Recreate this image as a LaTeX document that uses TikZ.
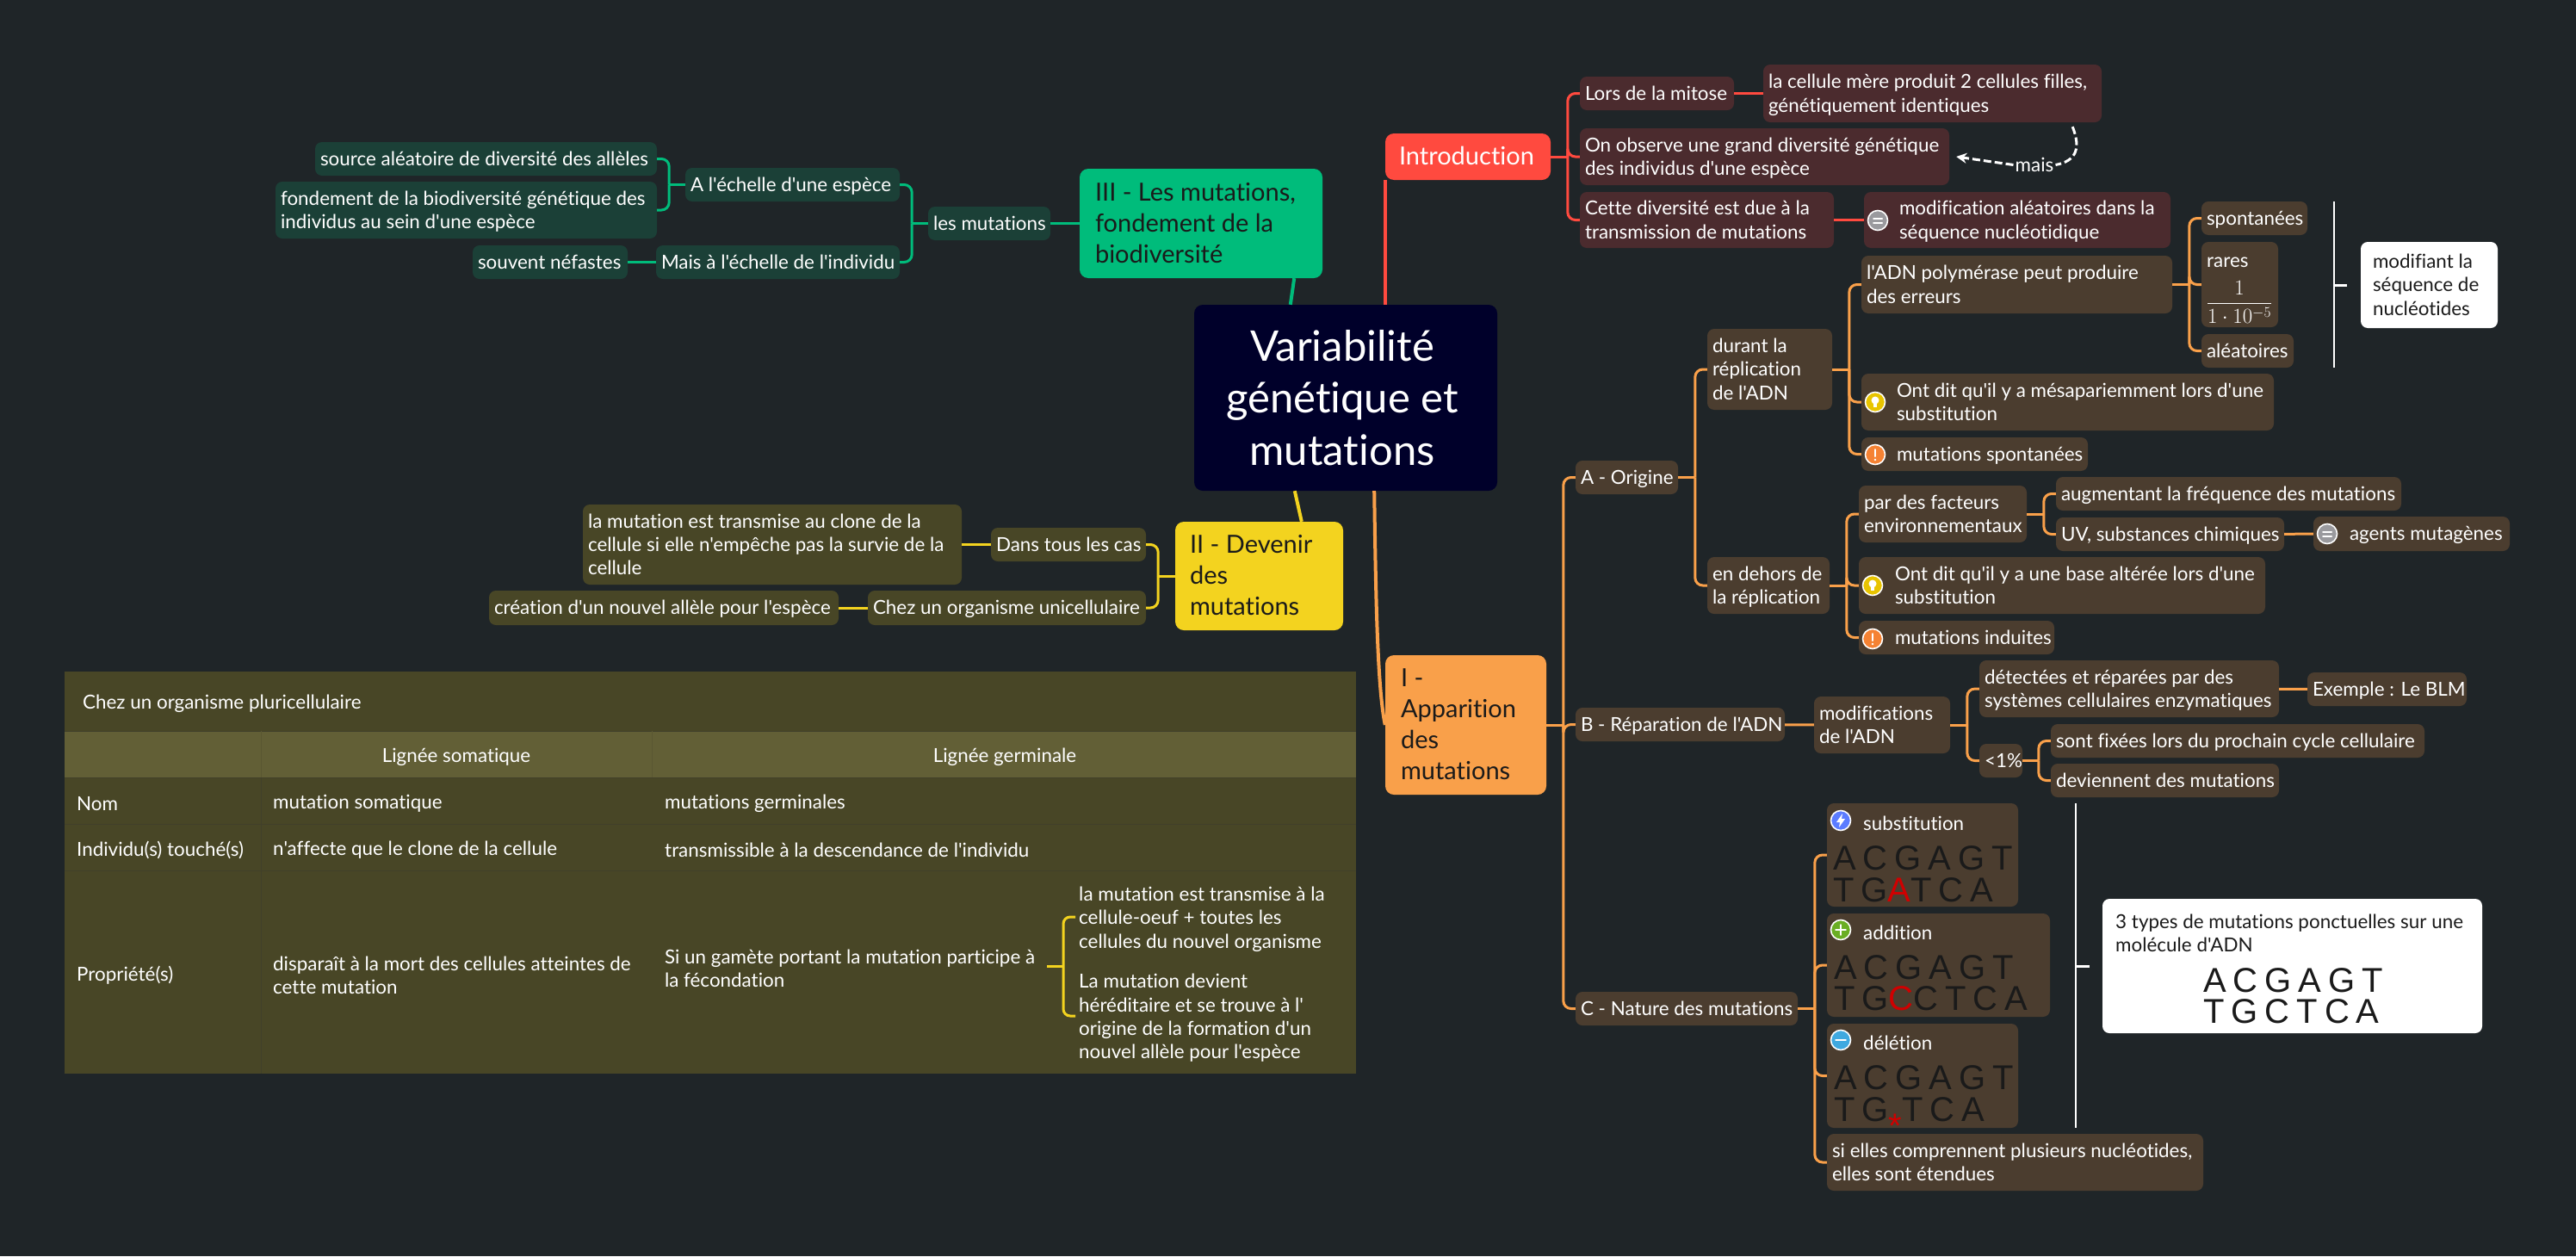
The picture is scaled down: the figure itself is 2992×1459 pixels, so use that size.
\documentclass[tikz,border=0pt]{standalone}
\usepackage{fontspec}
\usetikzlibrary{calc,arrows.meta}
\newfontfamily\txtf[Ligatures=NoCommon]{Lato}
\newfontfamily\dnaf[LetterSpace=20]{Liberation Sans}
\definecolor{bgc}{HTML}{1F2528}
\definecolor{navy}{HTML}{00002A}
\definecolor{redc}{HTML}{FF4A3F}
\definecolor{orac}{HTML}{F9A04A}
\definecolor{yelc}{HTML}{F3D31F}
\definecolor{grec}{HTML}{00BC7B}
\definecolor{redb}{HTML}{4B2B2E}
\definecolor{orab}{HTML}{4B3D2F}
\definecolor{yelb}{HTML}{484626}
\definecolor{greb}{HTML}{1B4037}
\definecolor{tabh}{HTML}{625F36}
\definecolor{tabl}{HTML}{41402A}
\definecolor{tabv}{HTML}{5A5732}
\definecolor{inkc}{HTML}{1A1A1A}
\definecolor{dnar}{HTML}{D00000}
\definecolor{icgray}{HTML}{9A9A9E}
\definecolor{icyel}{HTML}{E8C400}
\definecolor{icora}{HTML}{F58233}
\definecolor{icblu}{HTML}{5B7CFF}
\definecolor{icgre}{HTML}{6AAE24}
\definecolor{icsky}{HTML}{3FA9E0}
\tikzset{
  box/.style={rectangle,rounded corners=8pt,inner sep=0pt,text=white,font=\txtf\fontsize{22.4}{27.3}\selectfont},
  redbox/.style={box,fill=redb}, orabox/.style={box,fill=orab},
  yelbox/.style={box,fill=yelb}, grebox/.style={box,fill=greb},
  whitebox/.style={box,fill=white,text=inkc},
  topic/.style={box,rounded corners=10pt,text=inkc,font=\txtf\fontsize{29}{36}\selectfont},
  conn/.style={line width=3pt},
  plain/.style={inner sep=0pt,yshift=-2.5pt,text=white,font=\txtf\fontsize{22.4}{27.3}\selectfont},
  dna/.style={inner sep=0pt,anchor=base west,text=inkc,font=\dnaf\fontsize{40}{40}\selectfont},
  iconc/.style={circle,draw=white,line width=1.6pt,minimum size=23pt,inner sep=0pt},
  glyph/.style={line width=2pt,draw=white,line cap=round}
}
% [opts]{name}{x0}{y0}{x1}{y1}{pad}{text}
\newcommand\bx[8][]{%
  \pgfmathsetmacro\xW{#5-#3}\pgfmathsetmacro\xH{#6-#4}%
  \pgfmathsetmacro\xC{(#5+#3)/2}\pgfmathsetmacro\yC{(#6+#4)/2}%
  \node[#1,minimum width=\xW pt,minimum height=\xH pt] (#2) at (\xC,\yC)
    {\makebox[\xW pt][l]{\hspace{#7pt}\raisebox{-2.5pt}[\height][\depth]{\begin{tabular}{@{}l@{}}#8\end{tabular}}}};}
% right-going branch {colour}{parent}{child}
\newcommand\rb[3]{%
  \path (#3.west) ++(-14,0) coordinate (sp);
  \draw[conn,#1] (#2.east) -- (sp |- #2.east);
  \draw[conn,#1,rounded corners=9pt] (sp |- #2.east) -- (sp) -- (#3.west);}
% left-going branch
\newcommand\lb[3]{%
  \path (#3.east) ++(14,0) coordinate (sp);
  \draw[conn,#1] (#2.west) -- (sp |- #2.west);
  \draw[conn,#1,rounded corners=9pt] (sp |- #2.west) -- (sp) -- (#3.east);}
% icon {name}{x}{y}{colour}{glyph}
\newcommand\icon[5]{%
  \node[iconc,fill=#4] (#1) at (#2,#3) {};
  \begin{scope}[shift={(#1.center)}]#5\end{scope}}
\newcommand\gEq{\draw[glyph] (-5,-2.5) -- (5,-2.5) (-5,2.5) -- (5,2.5);}
\newcommand\gBulb{\fill[white] (0,-2) circle (4.5pt); \fill[white] (-2,2) rectangle (2,6);}
\newcommand\gExc{\draw[glyph] (0,-6) -- (0,2); \fill[white] (0,6) circle (1.4pt);}
\newcommand\gBolt{\fill[white] (2,-8) -- (-5,2) -- (-1,2) -- (-2,8) -- (5,-2) -- (1,-2) -- cycle;}
\newcommand\gPlus{\draw[glyph,line width=1.5pt] (-6,0) -- (6,0) (0,-6) -- (0,6);}
\newcommand\gMinus{\draw[glyph,line width=1.5pt] (-6,0) -- (6,0);}
\begin{document}
\begin{tikzpicture}[x=1pt,y=-1pt]
\useasboundingbox (0,0) rectangle (2992,1459);
\fill[bgc] (0,0) rectangle (2992,1459);

% table
\fill[yelb] (75,780) rectangle (1575,1247);
\fill[tabh] (75,849) rectangle (1575,903);
\draw[tabl,line width=1pt] (75,849) -- (1575,849) (75,903) -- (1575,903) (75,957) -- (1575,957) (75,1011) -- (1575,1011) (303,903) -- (303,1247);
\draw[tabv,line width=1pt] (303,849) -- (303,903) (757,849) -- (757,903);
\node[plain,anchor=west] (tchez) at (96,815) {Chez un organisme pluricellulaire};
\node[plain] (tsom) at (530,877) {Lignée somatique};
\node[plain] (tger) at (1167,877) {Lignée germinale};
\node[plain,anchor=west] (tnom) at (89,931) {Nom};
\node[plain,anchor=west] (tms) at (317,931) {mutation somatique};
\node[plain,anchor=west] (tmg) at (772,931) {mutations germinales};
\node[plain,anchor=west] (tind) at (89,985) {Individu(s) touché(s)};
\node[plain,anchor=west] (tnaf) at (317,985) {n'affecte que le clone de la cellule};
\node[plain,anchor=west] (ttra) at (772,985) {transmissible à la descendance de l'individu};
\node[plain,anchor=west] (tpro) at (89,1130) {Propriété(s)};
\node[plain,anchor=west,align=left] (tdis) at (317,1130) {disparaît à la mort des cellules atteintes de\\cette mutation};
\node[plain,anchor=west,align=left,outer sep=0pt] (tsi) at (772,1122) {Si un gamète portant la mutation participe à\\la fécondation};
\coordinate (tsie) at (1216,1122);
\node[plain,anchor=west,align=left] (tc1) at (1253,1065) {la mutation est transmise à la\\cellule-oeuf + toutes les\\cellules du nouvel organisme};
\node[plain,anchor=west,align=left] (tc2) at (1253,1180) {La mutation devient\\héréditaire et se trouve à l'\\origine de la formation d'un\\nouvel allèle pour l'espèce};
\coordinate (tc1w) at (1249,1065);
\coordinate (tc2w) at (1249,1180);
\draw[conn,yelc] (tsie) -- (1235,1122);
\draw[conn,yelc,rounded corners=8pt] (tc1w) -- (1235,1065) -- (1235,1180) -- (tc2w);

% central and main topics
\node[box,fill=navy,rounded corners=10pt,minimum width=352pt,minimum height=216pt,align=center,font=\txtf\fontsize{49}{60.5}\selectfont] (central) at (1563,462) {\hspace{-8pt}\raisebox{-5.5pt}[\height][\depth]{\begin{tabular}{@{}c@{}}Variabilité\\génétique et\\mutations\end{tabular}}};
\bx[topic,fill=redc,text=white]{intro}{1609}{155}{1801}{209}{16}{Introduction}
\bx[topic,fill=orac]{appa}{1609}{761}{1796}{923}{18}{I -\\Apparition\\des\\mutations}
\bx[topic,fill=yelc]{dev}{1365}{606}{1560}{732}{17}{II - Devenir\\des\\mutations}
\bx[topic,fill=grec]{fond}{1254}{196}{1536}{323}{18}{III - Les mutations,\\fondement de la\\biodiversité}
\draw[redc,line width=4pt] (central.north -| intro.south west) -- (intro.south west);
\draw[orac,line width=4pt] ($(central.south east)+(-143,0)$) .. controls (1598,700) and (1600,800) .. (appa.west);
\draw[grec,line width=4pt] ($(fond.south east)+(-33,0)$) -- ($(central.north west)+(112,0)$);
\draw[yelc,line width=4pt] ($(central.south west)+(117,0)$) -- ($(dev.north west)+(147,0)$);

% Introduction branch
\bx[redbox]{lors}{1835}{89}{2014}{128}{6}{Lors de la mitose}
\bx[redbox]{cell}{2048}{75}{2441}{142}{6}{la cellule mère produit 2 cellules filles,\\génétiquement identiques}
\bx[redbox]{obs}{1835}{149}{2264}{215}{6}{On observe une grand diversité génétique\\des individus d'une espèce}
\bx[redbox]{cette}{1835}{223}{2130}{288}{6}{Cette diversité est due à la\\transmission de mutations}
\bx[redbox]{modif}{2165}{223}{2521}{288}{41}{modification aléatoires dans la\\séquence nucléotidique}
\icon{imodif}{2181}{256}{icgray}{\gEq}
\rb{redc}{intro}{lors}\rb{redc}{intro}{obs}\rb{redc}{intro}{cette}
\draw[conn,redc] (lors) -- (cell);
\draw[conn,redc] (cette) -- (modif);
\node[plain,fill=bgc,inner xsep=2pt] (mais) at (2363,189) {mais};
\draw[white,line width=3pt,dash pattern=on 9pt off 4pt,-{Stealth[length=12pt,width=12pt]}] ($(cell.south east)+(-34,5)$) .. controls (2417,172) and (2412,187) .. (mais.east) (mais.west) -- ($(obs.east)+(8,0)$);

% I branch
\bx[orabox]{orig}{1830}{535}{1949}{574}{6}{A - Origine}
\bx[orabox]{repa}{1830}{822}{2073}{861}{6}{B - Réparation de l'ADN}
\bx[orabox]{natu}{1830}{1152}{2088}{1191}{6}{C - Nature des mutations}
\rb{orac}{appa}{orig}\rb{orac}{appa}{repa}\rb{orac}{appa}{natu}

\bx[orabox]{dura}{1983}{382}{2128}{476}{6}{durant la\\réplication\\de l'ADN}
\bx[orabox]{hors}{1983}{647}{2125}{713}{6}{en dehors de\\la réplication}
\rb{orac}{orig}{dura}\rb{orac}{orig}{hors}

\bx[orabox]{poly}{2162}{297}{2523}{364}{6}{l'ADN polymérase peut produire\\des erreurs}
\bx[orabox]{mesa}{2162}{434}{2641}{500}{41}{Ont dit qu'il y a mésapariemment lors d'une\\substitution}
\bx[orabox]{spon}{2162}{508}{2425}{547}{41}{mutations spontanées}
\icon{imesa}{2178}{467}{icyel}{\gBulb}
\icon{ispon}{2178}{528}{icora}{\gExc}
\rb{orac}{dura}{poly}\rb{orac}{dura}{mesa}\rb{orac}{dura}{spon}

\bx[orabox]{spo}{2557}{234}{2680}{273}{6}{spontanées}
\bx[orabox]{rare}{2557}{281}{2646}{380}{6}{}
\node[plain,anchor=west] (raret) at (2563,302) {rares};
\node[inner sep=0pt,text=white,font=\fontsize{24}{27}\selectfont] (frac) at (2601,351) {$\displaystyle\frac{1}{1\cdot 10^{-5}}$};
\bx[orabox]{alea}{2557}{388}{2664}{427}{6}{aléatoires}
\rb{orac}{poly}{spo}\rb{orac}{poly}{rare}\rb{orac}{poly}{alea}
\bx[whitebox]{mseq}{2742}{281}{2901}{381}{14}{modifiant la\\séquence de\\nucléotides}
\coordinate (s1t) at (2711,234); \coordinate (s1b) at (2711,427);
\draw[white,line width=2.5pt] (s1t) -- (s1b);
\draw[white,line width=3pt] (s1t |- mseq.west) -- ($(mseq.west)+(-16,0)$);

\bx[orabox]{fact}{2159}{564}{2354}{630}{6}{par des facteurs\\environnementaux}
\bx[orabox]{base}{2159}{647}{2631}{713}{42}{Ont dit qu'il y a une base altérée lors d'une\\substitution}
\bx[orabox]{indu}{2159}{721}{2386}{760}{42}{mutations induites}
\icon{ibase}{2175}{680}{icyel}{\gBulb}
\icon{iindu}{2175}{742}{icora}{\gExc}
\rb{orac}{hors}{fact}\rb{orac}{hors}{base}\rb{orac}{hors}{indu}
\bx[orabox]{augm}{2388}{554}{2789}{593}{6}{augmentant la fréquence des mutations}
\bx[orabox]{uvs}{2388}{601}{2653}{640}{6}{UV, substances chimiques}
\bx[orabox]{agen}{2687}{600}{2915}{640}{42}{agents mutagènes}
\icon{iagen}{2703}{620}{icgray}{\gEq}
\rb{orac}{fact}{augm}\rb{orac}{fact}{uvs}
\draw[conn,orac] (uvs) -- (agen);

\bx[orabox]{mods}{2107}{809}{2265}{875}{6}{modifications\\de l'ADN}
\draw[conn,orac] (repa) -- (mods);
\bx[orabox]{dete}{2299}{767}{2647}{833}{6}{détectées et réparées par des\\systèmes cellulaires enzymatiques}
\bx[orabox]{exem}{2680}{781}{2865}{820}{6}{Exemple : Le BLM}
\bx[orabox]{lt}{2299}{864}{2349}{903}{6}{<1\%}
\bx[orabox]{fixe}{2382}{841}{2816}{880}{6}{sont fixées lors du prochain cycle cellulaire}
\bx[orabox]{devi}{2382}{887}{2647}{926}{6}{deviennent des mutations}
\rb{orac}{mods}{dete}\rb{orac}{mods}{lt}
\draw[conn,orac] (dete) -- (exem);
\rb{orac}{lt}{fixe}\rb{orac}{lt}{devi}

\bx[orabox]{subs}{2122}{933}{2344}{1053}{42}{}
\bx[orabox]{addi}{2122}{1061}{2381}{1181}{42}{}
\bx[orabox]{dele}{2122}{1189}{2344}{1310}{42}{}
\bx[orabox]{sell}{2122}{1317}{2559}{1383}{6}{si elles comprennent plusieurs nucléotides,\\elles sont étendues}
\rb{orac}{natu}{subs}\rb{orac}{natu}{addi}\rb{orac}{natu}{dele}\rb{orac}{natu}{sell}
\icon{isubs}{2138}{953}{icblu}{\gBolt}
\icon{iaddi}{2138}{1080}{icgre}{\gPlus}
\icon{idele}{2138}{1208}{icsky}{\gMinus}
\node[plain,anchor=west] (lsubs) at (2164,954) {substitution};
\node[plain,anchor=west] (laddi) at (2164,1081) {addition};
\node[plain,anchor=west] (ldele) at (2164,1209) {délétion};
\node[dna] (d1a) at (2129,1010) {ACGAGT};
\node[dna] (d1b) at (2129,1047) {TG{\color{dnar}A}TCA};
\node[dna] (d2a) at (2130,1137) {ACGAGT};
\node[dna] (d2b) at (2130,1173) {TG{\color{dnar}C}CTCA};
\node[dna] (d3a) at (2130,1265) {ACGAGT};
\node[dna] (d3b) at (2130,1302) {TG{\color{dnar}\raisebox{-19pt}{*}}TCA};
\coordinate (s2t) at (2411,933); \coordinate (s2b) at (2411,1310);
\draw[white,line width=2.5pt] (s2t) -- (s2b);
\bx[whitebox]{tri}{2442}{1044}{2883}{1200}{15}{}
\draw[white,line width=3pt] (s2t |- tri.west) -- ($(tri.west)+(-15,0)$);
\node[plain,text=inkc,anchor=west,align=left] (tri1) at (2457,1081) {3 types de mutations ponctuelles sur une\\molécule d'ADN};
\node[dna] (d4a) at (2559,1152) {ACGAGT};
\node[dna] (d4b) at (2559,1188) {TGCTCA};

% II branch
\bx[yelbox]{dans}{1151}{613}{1331}{652}{6}{Dans tous les cas}
\bx[yelbox]{chez}{1008}{686}{1331}{726}{6}{Chez un organisme unicellulaire}
\bx[yelbox]{trans}{677}{586}{1117}{679}{6}{la mutation est transmise au clone de la\\cellule si elle n'empêche pas la survie de la\\cellule}
\bx[yelbox]{crea}{568}{686}{974}{726}{6}{création d'un nouvel allèle pour l'espèce}
\lb{yelc}{dev}{dans}\lb{yelc}{dev}{chez}
\draw[conn,yelc] (dans) -- (trans);
\draw[conn,yelc] (chez) -- (crea);

% III branch
\bx[grebox]{lesm}{1078}{240}{1220}{279}{6}{les mutations}
\bx[grebox]{aech}{796}{195}{1045}{234}{6}{A l'échelle d'une espèce}
\bx[grebox]{mais2}{762}{285}{1045}{324}{6}{Mais à l'échelle de l'individu}
\bx[grebox]{sour}{366}{165}{763}{204}{6}{source aléatoire de diversité des allèles}
\bx[grebox]{bio}{320}{211}{763}{277}{6}{fondement de la biodiversité génétique des\\individus au sein d'une espèce}
\bx[grebox]{souv}{549}{285}{729}{324}{6}{souvent néfastes}
\draw[conn,grec] (fond) -- (lesm);
\lb{grec}{lesm}{aech}\lb{grec}{lesm}{mais2}
\lb{grec}{aech}{sour}\lb{grec}{aech}{bio}
\draw[conn,grec] (mais2) -- (souv);
\end{tikzpicture}
\end{document}
